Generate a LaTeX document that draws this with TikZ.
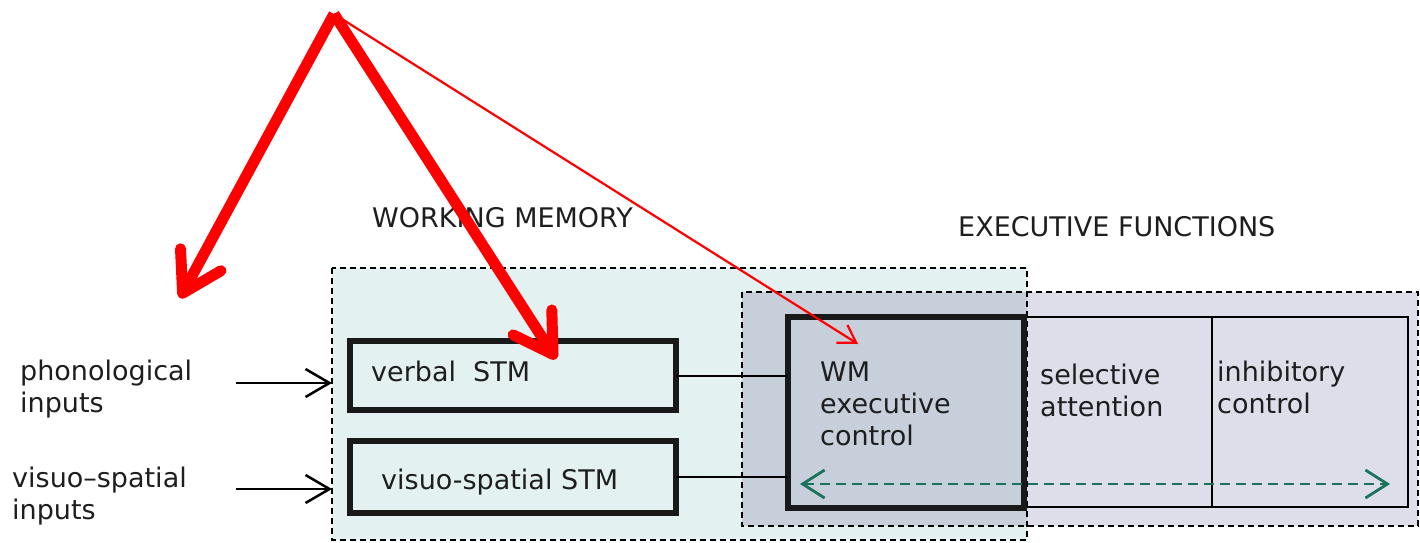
\documentclass[tikz,border=0pt]{standalone}
\usepackage{fontspec}
\setmainfont{DejaVu Sans}
\usetikzlibrary{arrows.meta}
\definecolor{wmfill}{RGB}{227,242,241}
\definecolor{effill}{RGB}{221,222,234}
\definecolor{ovfill}{RGB}{199,207,219}
\definecolor{arrred}{RGB}{255,0,0}
\definecolor{dgreen}{RGB}{25,115,90}
\definecolor{txt}{RGB}{30,30,30}
\begin{document}
\begin{tikzpicture}[x=1pt,y=-1pt,
  lbl/.style={font=\fontsize{27}{32}\selectfont, text=txt, inner sep=0pt, align=left, anchor=west},
  zone/.style={inner sep=0pt, outer sep=0pt},
  zoneline/.style={draw=black, line width=1.8pt, dash pattern=on 6pt off 4pt},
  thickbox/.style={draw=black!90, line width=6pt, inner sep=0pt, outer sep=0pt},
  thinbox/.style={draw=black, line width=2pt, inner sep=0pt, outer sep=0pt},
  link/.style={draw=black, line width=2pt},
  inarrow/.style={draw=black, line width=2.5pt, -{Straight Barb[length=24pt,width=28pt]}},
  bigred/.style={draw=arrred, line width=11pt, line join=round, -{Straight Barb[length=38pt,width=46pt,round]}},
  thinred/.style={draw=arrred, line width=2.2pt, -{Straight Barb[length=17pt,width=21pt]}},
  dual/.style={draw=dgreen, line width=2.8pt, dash pattern=on 10pt off 6pt,
     {Straight Barb[length=22pt,width=28pt]}-{Straight Barb[length=22pt,width=28pt]}}
]
\useasboundingbox (0,0) rectangle (1420,542);
\fill[white] (0,0) rectangle (1420,542);

% zones
\node[zone, fill=wmfill, minimum width=695pt, minimum height=272pt] (wm) at (679.5,404) {};
\node[zone, fill=effill, minimum width=676pt, minimum height=234pt] (ef) at (1080,409) {};
\fill[ovfill] (ef.north west) rectangle (wm.east |- ef.south);
\draw[zoneline] (wm.north west) rectangle (wm.south east);
\draw[zoneline] (ef.north west) rectangle (ef.south east);

% titles
\node[lbl] (wmt) at (372,218) {WORKING MEMORY};
\node[lbl] (eft) at (958,227) {EXECUTIVE FUNCTIONS};

% STM boxes
\node[thickbox, minimum width=326pt, minimum height=69pt] (vstm) at (513,375.5) {};
\node[thickbox, minimum width=326pt, minimum height=72pt] (sstm) at (513,477) {};
\node[lbl] (vstmt) at (371,371) {verbal\ \ STM};
\node[lbl] (sstmt) at (381,482) {visuo-spatial STM};

% executive functions row
\node[thinbox, minimum width=188pt, minimum height=190pt] (sa) at (1118,412) {};
\node[thinbox, minimum width=196pt, minimum height=190pt] (ic) at (1310,412) {};
\node[thickbox, minimum width=236pt, minimum height=191pt] (wmx) at (906,412.5) {};
\node[lbl] (wmxt) at (820,404) {WM\\executive\\control};
\node[lbl] (sat) at (1040,390) {selective\\attention};
\node[lbl] (ict) at (1217,387) {inhibitory\\control};

% links
\draw[link] (vstm.east) -- (vstm.east -| wmx.west);
\draw[link] (sstm.east) -- (sstm.east -| wmx.west);

% inputs
\node[lbl] (phon) at (20,389) {phonological\\inputs};
\node[lbl] (visu) at (12,496) {visuo–spatial\\inputs};
\coordinate (pin) at (236,383);
\coordinate (vin) at (236,489);
\draw[inarrow] (pin) -- (pin -| wm.west);
\draw[inarrow] (vin) -- (vin -| wm.west);

% green double arrow
\coordinate (g1) at (800,484);
\coordinate (g2) at (1390,484);
\draw[dual] (g1) -- (g2);

% red arrows
\coordinate (src) at (334,14);
\coordinate (tipL) at (180,298);
\coordinate (tipM) at (556,359);
\coordinate (tipR) at (858,344);
\draw[thinred] (src) -- (tipR);
\draw[bigred] (src) -- (tipL);
\draw[bigred] (src) -- (tipM);
\end{tikzpicture}
\end{document}
